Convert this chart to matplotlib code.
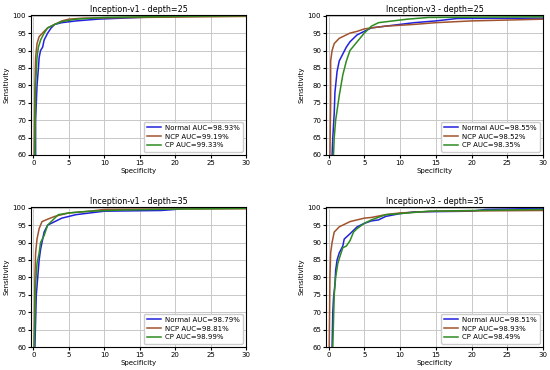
import matplotlib
matplotlib.use("Agg")
import matplotlib.pyplot as plt

titles = ["Inception-v1 - depth=25", "Inception-v3 - depth=25",
          "Inception-v1 - depth=35", "Inception-v3 - depth=35"]
aucs = [("98.93", "99.19", "99.33"), ("98.55", "98.52", "98.35"),
        ("98.79", "98.81", "98.99"), ("98.51", "98.93", "98.49")]

# panel 1: v1 d25
p1_normal_x = [0.3, 0.3, 0.5, 0.7, 0.8, 1.0, 1.3, 1.5, 2, 2.5, 3, 4, 6, 9, 15, 20, 30]
p1_normal_y = [60, 70, 80, 85, 88, 90, 91, 93, 95, 96.5, 97.5, 98, 98.5, 99, 99.5, 99.8, 100]
p1_ncp_x = [0.1, 0.2, 0.3, 0.5, 0.8, 1.5, 2, 3, 4, 5, 7, 15, 30]
p1_ncp_y = [60, 80, 88, 92, 94, 95.5, 96.5, 97.5, 98.5, 99, 99.3, 99.5, 99.8]
p1_cp_x = [0.2, 0.3, 0.5, 0.7, 1, 1.5, 2, 3, 4, 6, 10, 20, 30]
p1_cp_y = [60, 80, 88, 91, 93, 95, 96.5, 97.5, 98.3, 99, 99.5, 99.8, 100]

# panel 2: v3 d25
p2_normal_x = [0.5, 0.6, 0.8, 0.9, 1, 1.2, 1.5, 2, 2.5, 3, 4, 5, 6, 8, 10, 12, 15, 18, 30]
p2_normal_y = [60, 65, 72, 78, 80, 84, 87, 89, 91, 92.5, 94.5, 95.5, 96.5, 97, 97.5, 98, 98.5, 99.2, 99.3]
p2_ncp_x = [0.2, 0.3, 0.3, 0.5, 0.8, 1.5, 2, 3, 4, 5, 6, 8, 12, 15, 20, 30]
p2_ncp_y = [60, 75, 87, 90, 92, 93.5, 94, 95, 95.5, 96.2, 96.5, 97, 97.5, 98, 98.5, 99]
p2_cp_x = [0.7, 0.8, 1, 1.5, 2, 2.5, 3, 4, 5, 6, 7, 9, 11, 14, 30]
p2_cp_y = [60, 65, 70, 77, 83, 87, 90, 92.5, 95, 97, 98, 98.5, 99, 99.5, 99.7]

# panel 3: v1 d35
p3_normal_x = [0.2, 0.4, 0.6, 0.8, 1, 1.5, 2, 3, 4, 5, 6, 8, 10, 18, 20, 22, 30]
p3_normal_y = [60, 75, 80, 85, 88, 93, 95, 96, 97, 97.5, 98, 98.5, 99, 99.2, 99.5, 100, 100]
p3_ncp_x = [0.1, 0.2, 0.3, 0.5, 0.8, 1.2, 2, 3, 5, 8, 10, 15, 30]
p3_ncp_y = [60, 80, 87, 91, 94, 96, 96.7, 97.5, 98.5, 99, 99.5, 99.6, 99.7]
p3_cp_x = [0.1, 0.3, 0.5, 0.8, 1, 1.5, 2, 3, 3.5, 5, 8, 12, 20, 30]
p3_cp_y = [60, 78, 84, 87, 90, 92, 95, 97, 98, 98.5, 99, 99.3, 99.6, 99.8]

# panel 4: v3 d35
p4_normal_x = [0.5, 0.6, 0.7, 0.9, 1, 1.2, 1.5, 2, 2.2, 3, 4, 5, 6, 7, 8, 10, 12, 20, 22, 30]
p4_normal_y = [60, 70, 74, 78, 82, 85, 87, 89, 91, 92.5, 94.5, 95.5, 96.2, 96.5, 97.5, 98.3, 98.8, 99, 99.5, 99.8]
p4_ncp_x = [0.1, 0.2, 0.3, 0.5, 0.8, 1.5, 2.5, 3, 5, 6, 8, 10, 15, 30]
p4_ncp_y = [60, 80, 87, 90, 93, 94.5, 95.5, 96, 97, 97.2, 98, 98.5, 99, 99.2]
p4_cp_x = [0.6, 0.8, 1, 1.3, 1.6, 2, 2.5, 3, 3.5, 4, 5, 6, 8, 10, 14, 30]
p4_cp_y = [60, 75, 80, 84, 86, 88.5, 89, 90.5, 93, 94, 95.5, 96.5, 98, 98.3, 99, 99.5]

panels = [
    ((p1_normal_x, p1_normal_y), (p1_ncp_x, p1_ncp_y), (p1_cp_x, p1_cp_y)),
    ((p2_normal_x, p2_normal_y), (p2_ncp_x, p2_ncp_y), (p2_cp_x, p2_cp_y)),
    ((p3_normal_x, p3_normal_y), (p3_ncp_x, p3_ncp_y), (p3_cp_x, p3_cp_y)),
    ((p4_normal_x, p4_normal_y), (p4_ncp_x, p4_ncp_y), (p4_cp_x, p4_cp_y)),
]
names = ["Normal", "NCP", "CP"]
colors = ["#2222dd", "#a0522d", "#2e8b22"]

W, H = 550, 370
fig = plt.figure(figsize=(5.5, 3.7), dpi=100)
boxes = [(31, 15, 246, 155), (326, 15, 543, 155), (31, 207, 246, 347), (326, 207, 543, 347)]

for i, (l, t, r, b) in enumerate(boxes):
    ax = fig.add_axes([l / W, 1 - b / H, (r - l) / W, (b - t) / H])
    for j, (xs, ys) in enumerate(panels[i]):
        ax.plot(xs, ys, color=colors[j], lw=1.1,
                label=f"{names[j]} AUC={aucs[i][j]}%")
    ax.set_xlim(-0.35, 30)
    ax.set_ylim(60, 100.2)
    ax.set_xticks([0, 5, 10, 15, 20, 25, 30])
    ax.set_yticks([60, 65, 70, 75, 80, 85, 90, 95, 100])
    ax.grid(True, color="#c8c8c8", lw=0.7)
    ax.tick_params(labelsize=5, length=2, pad=1.5)
    ax.set_title(titles[i], fontsize=5.8, pad=2.5)
    ax.set_xlabel("Specificity", fontsize=5, labelpad=1.5)
    ax.set_ylabel("Sensitivity", fontsize=5, labelpad=2)
    ax.legend(loc="lower right", fontsize=5, handlelength=2.0,
              borderpad=0.45, labelspacing=0.4, handletextpad=0.5,
              framealpha=1, borderaxespad=0.5)

fig.savefig("out.png", dpi=100)
